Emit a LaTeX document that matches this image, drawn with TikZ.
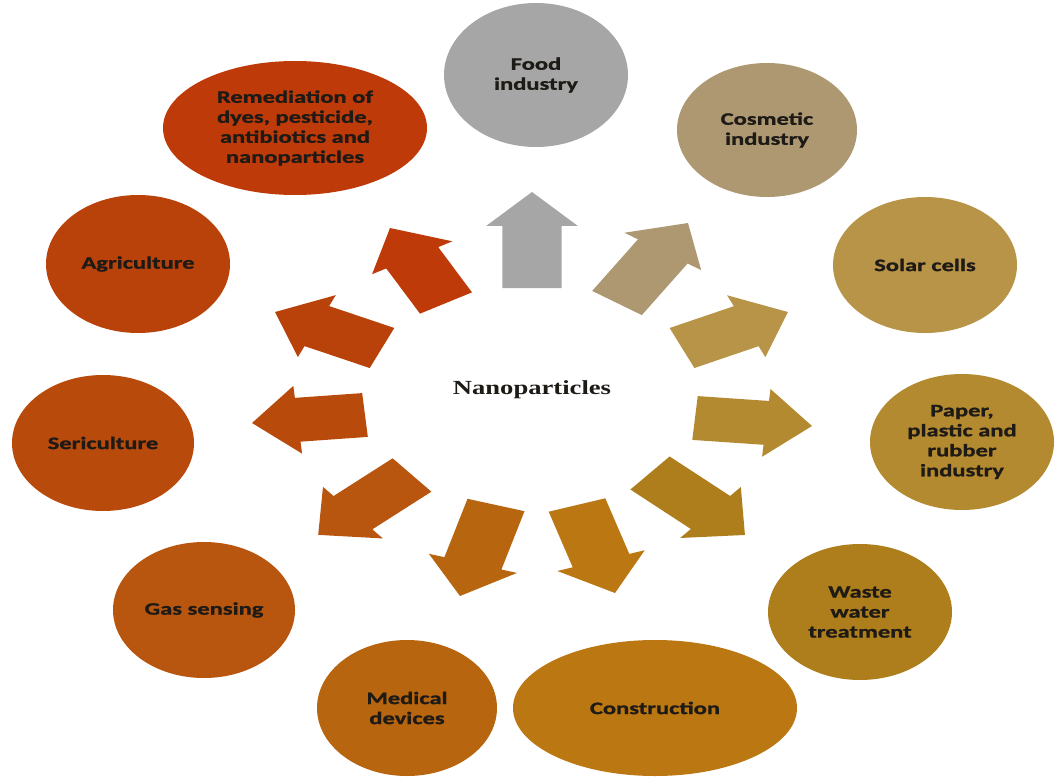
\documentclass[tikz,border=0pt]{standalone}
\usepackage{fontspec}
\usetikzlibrary{shapes.geometric}
\newfontfamily\labfont{Carlito}[FakeStretch=1.4,FakeBold=1.2]
\newfontfamily\nanofont{Liberation Serif}[FakeStretch=1.33]
\definecolor{cfood}{HTML}{A6A6A6}
\definecolor{ccosm}{HTML}{AD9872}
\definecolor{csolar}{HTML}{B89448}
\definecolor{cpaper}{HTML}{B38A30}
\definecolor{cwaste}{HTML}{AE7E1C}
\definecolor{cconstr}{HTML}{BA7712}
\definecolor{cmed}{HTML}{B8650F}
\definecolor{cgas}{HTML}{B85610}
\definecolor{cseri}{HTML}{B84A0C}
\definecolor{cagri}{HTML}{B8420A}
\definecolor{crem}{HTML}{BE3A08}
\definecolor{ctext}{HTML}{1E1A16}
% block arrow: tail x, tail y, tip x, tip y, colour (pixel coordinates)
\newcommand\blockarrow[5]{%
  \pgfmathsetmacro\bdx{(#3-#1)/1.35}%
  \pgfmathsetmacro\bdy{-(#4-#2)}%
  \pgfmathsetmacro\bang{atan2(\bdy,\bdx)}%
  \pgfmathsetmacro\blen{veclen(\bdx,\bdy)}%
  \begin{scope}[shift={(#1,#2)}, xscale=1.35, rotate=\bang]
    \fill[#5] (0pt,-22pt) -- ({\blen pt-34pt},-22pt) -- ({\blen pt-34pt},-34pt)
      -- (\blen pt,0pt) -- ({\blen pt-34pt},34pt) -- ({\blen pt-34pt},22pt)
      -- (0pt,22pt) -- cycle;
  \end{scope}}
\begin{document}
\begin{tikzpicture}[x=1pt,y=-1pt,
  bubble/.style={ellipse, inner sep=0pt, align=center, text=ctext,
    font=\labfont\bfseries\fontsize{17.5}{20}\selectfont}]
\useasboundingbox (0,0) rectangle (1055,778);
\fill[white] (0,0) rectangle (1055,778);
% ellipses
\node[bubble, fill=cfood, minimum width=184pt, minimum height=144pt] (food) at (536,75) {Food\\industry};
\node[bubble, fill=ccosm, minimum width=180pt, minimum height=134pt] (cosm) at (767,130) {Cosmetic\\industry};
\node[bubble, fill=csolar, minimum width=184pt, minimum height=136pt] (solar) at (925,265) {Solar cells};
\node[bubble, fill=cpaper, minimum width=184pt, minimum height=136pt] (paper) at (962,442) {Paper,\\plastic and\\rubber\\industry};
\node[bubble, fill=cwaste, minimum width=184pt, minimum height=136pt] (waste) at (860,612) {Waste\\water\\treatment};
\node[bubble, fill=cconstr, minimum width=284pt, minimum height=136pt] (constr) at (655,708) {Construction};
\node[bubble, fill=cmed, minimum width=180pt, minimum height=136pt] (med) at (407,708) {Medical\\devices};
\node[bubble, fill=cgas, minimum width=182pt, minimum height=136pt] (gas) at (204,610) {Gas sensing};
\node[bubble, fill=cseri, minimum width=182pt, minimum height=136pt] (seri) at (103,443) {Sericulture};
\node[bubble, fill=cagri, minimum width=184pt, minimum height=138pt] (agri) at (138,264) {Agriculture};
\node[bubble, fill=crem, minimum width=264pt, minimum height=134pt] (rem) at (295,128) {Remediation of\\dyes, pesticide,\\antibiotics and\\nanoparticles};
% centre
\node[font=\nanofont\bfseries\fontsize{20}{24}\selectfont, text=ctext] (nano) at (532,390) {Nanoparticles};
% arrows
\blockarrow{532}{288}{532}{192}{cfood}
\blockarrow{617}{303}{688}{223}{ccosm}
\blockarrow{682}{348}{788}{312}{csolar}
\blockarrow{695}{418}{812}{426}{cpaper}
\blockarrow{650}{473}{745}{535}{cwaste}
\blockarrow{577}{505}{615}{593}{cconstr}
\blockarrow{496}{505}{460}{596}{cmed}
\blockarrow{412}{475}{318}{535}{cgas}
\blockarrow{365}{415}{252}{423}{cseri}
\blockarrow{382}{348}{275}{312}{cagri}
\blockarrow{446}{303}{390}{228}{crem}
\end{tikzpicture}
\end{document}
